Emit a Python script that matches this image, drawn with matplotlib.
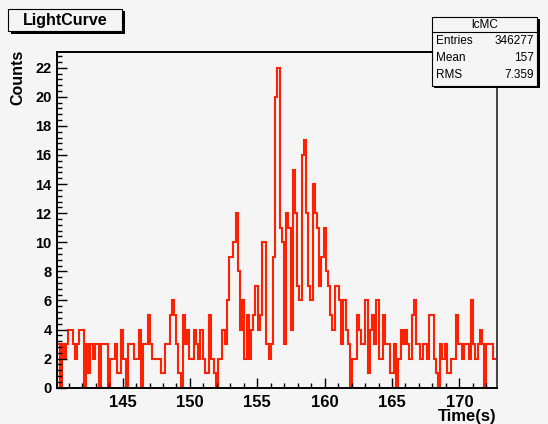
import numpy as np
import matplotlib
matplotlib.use("Agg")
import matplotlib.pyplot as plt
from matplotlib.patches import Rectangle
from matplotlib.ticker import MultipleLocator

# --- data: light curve histogram (200 bins) ---
T_MIN = 140.15
T_MAX = 172.82
counts = [3, 0, 3, 2, 3, 4, 4, 3, 2, 3,
          4, 4, 0, 3, 1, 3, 2, 3, 3, 0,
          3, 3, 3, 0, 2, 2, 3, 1, 1, 4,
          2, 0, 3, 3, 3, 2, 2, 4, 0, 3,
          3, 5, 3, 2, 2, 2, 2, 1, 1, 3,
          3, 5, 6, 5, 3, 1, 0, 5, 3, 4,
          2, 2, 4, 3, 2, 4, 2, 1, 1, 5,
          2, 1, 0, 2, 2, 4, 3, 6, 9, 9,
          10, 12, 8, 4, 6, 2, 5, 2, 4, 5,
          7, 4, 5, 10, 10, 3, 2, 3, 9, 20,
          22, 11, 10, 3, 12, 11, 4, 15, 12, 7,
          6, 16, 17, 12, 7, 6, 14, 12, 11, 7,
          9, 11, 8, 7, 5, 4, 7, 7, 6, 3,
          6, 4, 3, 0, 2, 2, 5, 4, 3, 3,
          6, 1, 4, 5, 3, 6, 2, 2, 5, 3,
          3, 1, 1, 3, 0, 2, 4, 3, 4, 3,
          2, 5, 6, 3, 3, 2, 3, 3, 2, 5,
          5, 2, 1, 0, 3, 2, 3, 1, 1, 2,
          2, 5, 3, 3, 2, 3, 3, 2, 6, 3,
          2, 3, 4, 3, 0, 3, 3, 3, 2, 2]
hist_name = "lcMC"
stats_labels = ["Entries", "Mean", "RMS"]
stats_values = ["346277", "157", "7.359"]

W, H = 548, 424
BG = "#f5f5f5"
RED = "#ff2200"
FONT = "Liberation Sans"

plt.rcParams["font.family"] = [FONT, "DejaVu Sans"]

fig = plt.figure(figsize=(W / 100, H / 100), dpi=100, facecolor=BG)

def fx(x):
    return x / W

def fy(y):
    return 1 - y / H

# frame in pixel coords
L, R, T, B = 57.3, 497.3, 51.7, 387.7
ax = fig.add_axes([fx(L), fy(B), fx(R - L), (B - T) / H])
ax.set_facecolor(BG)

edges = np.linspace(T_MIN, T_MAX, len(counts) + 1)
ax.stairs(counts, edges, color=RED, linewidth=1.5, baseline=0)

ax.set_xlim(T_MIN, T_MAX)
ax.set_ylim(0, max(counts) * 1.05)

ax.xaxis.set_major_locator(MultipleLocator(5))
ax.xaxis.set_minor_locator(MultipleLocator(1))
ax.yaxis.set_major_locator(MultipleLocator(2))
ax.yaxis.set_minor_locator(MultipleLocator(0.4))

ax.tick_params(axis="both", which="both", direction="in", top=False, right=False,
               color="black", width=1.0)
ax.tick_params(axis="both", which="major", length=7)
ax.tick_params(axis="both", which="minor", length=3.8)
ax.tick_params(axis="x", which="major", labelsize=12, pad=5)
ax.tick_params(axis="y", which="major", labelsize=10.5, pad=4)
for lab in ax.get_xticklabels() + ax.get_yticklabels():
    lab.set_fontweight("bold")

for s in ax.spines.values():
    s.set_linewidth(1.4)
    s.set_color("black")
ax.spines["right"].set_color("#444444")

# axis titles
fig.text(fx(18), fy(50), "Counts", rotation=90, ha="center", va="top",
         fontsize=11.5, fontweight="bold")
fig.text(fx(497), fy(420.5), "Time(s)", ha="right", va="baseline",
         fontsize=12, fontweight="bold")

# title box with shadow
def shadow_box(x0, y0, x1, y1, sh=2.5):
    fig.add_artist(Rectangle((fx(x0 + sh), fy(y1 + sh)), fx(x1 - x0), (y1 - y0) / H,
                             transform=fig.transFigure, facecolor="black",
                             edgecolor="none", zorder=5))
    fig.add_artist(Rectangle((fx(x0), fy(y1)), fx(x1 - x0), (y1 - y0) / H,
                             transform=fig.transFigure, facecolor=BG,
                             edgecolor="black", linewidth=0.8, zorder=6))

shadow_box(8, 9, 122, 31)
fig.text(fx(65), fy(20), "LightCurve", ha="center", va="center",
         fontsize=11.5, fontweight="bold", zorder=7)

# stats box
shadow_box(431.7, 16.7, 537, 85.5)
fig.add_artist(plt.Line2D([fx(431.7), fx(537)], [fy(32.3), fy(32.3)],
                          transform=fig.transFigure, color="black",
                          linewidth=0.8, zorder=7))
fig.text(fx(484.5), fy(24.5), hist_name, ha="center", va="center",
         fontsize=8.5, zorder=7)
for k, (lab, val) in enumerate(zip(stats_labels, stats_values)):
    yy = 40.5 + k * 17.5
    fig.text(fx(436), fy(yy), lab, ha="left", va="center", fontsize=8.5, zorder=7)
    fig.text(fx(534), fy(yy), val, ha="right", va="center", fontsize=8.5, zorder=7)

fig.savefig("out.png", dpi=100, facecolor=BG)
